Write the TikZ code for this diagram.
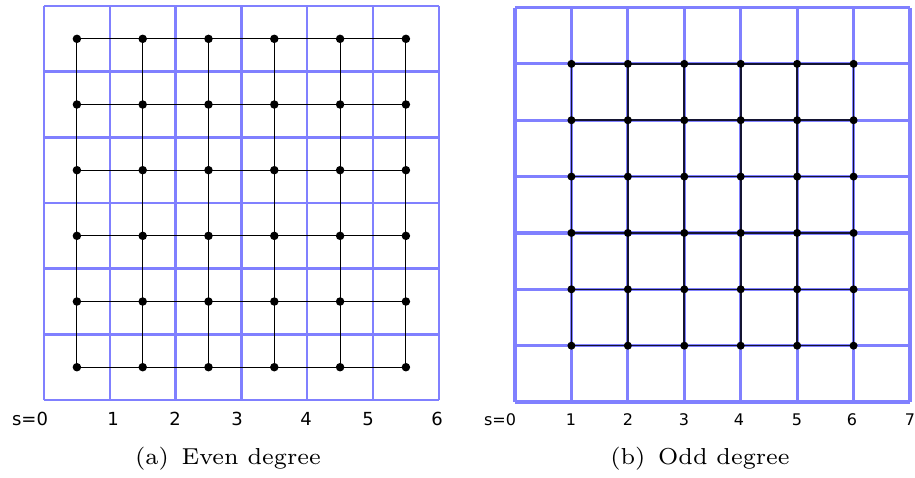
\documentclass[tikz,border=0pt]{standalone}
\usepackage{fontspec}
\usepackage{graphicx}
\newfontfamily\labfont{DejaVu Sans}
\definecolor{gridblue}{RGB}{128,128,255}
\definecolor{edgedark}{RGB}{20,20,50}
\newcommand{\captxt}[1]{\scalebox{3.3}{\fontsize{7}{8}\selectfont #1}}
\begin{document}
\begin{tikzpicture}[x=1pt,y=-1pt,
  gridline/.style={draw=gridblue,line width=2.5pt},
  gridlineb/.style={draw=gridblue,line width=3.2pt},
  edgeline/.style={draw=black,line width=0.9pt},
  edgelineb/.style={draw=edgedark,line width=1.6pt},
  dotnode/.style={circle,fill=black,inner sep=0pt,minimum size=8.5pt},
  dotnodeb/.style={circle,fill=black,inner sep=0pt,minimum size=8pt},
  lab/.style={font=\labfont\fontsize{18}{20}\selectfont,inner sep=0pt},
  labb/.style={font=\labfont\fontsize{16}{18}\selectfont,inner sep=0pt},
  captext/.style={inner sep=0pt,anchor=base}]
\useasboundingbox (0,0) rectangle (915,477);
% ---------- left panel (a) ----------
\foreach \i in {0,...,6} {
  \draw[gridline] ({44+\i*65.8},6) -- ({44+\i*65.8},400);
  \draw[gridline] (44,{6+\i*65.67}) -- (439,{6+\i*65.67});
}
\foreach \i in {1,...,6} \foreach \j in {1,...,6}
  \coordinate (a\i\j) at ({44+(\i-0.5)*65.8},{6+(\j-0.5)*65.67});
\foreach \j in {1,...,6} \draw[edgeline] (a1\j) -- (a6\j);
\foreach \i in {1,...,6} \draw[edgeline] (a\i1) -- (a\i6);
\foreach \i in {1,...,6} \foreach \j in {1,...,6}
  \node[dotnode] (da\i\j) at (a\i\j) {};
\node[lab] (sa0) at (30,419) {s=0};
\node[lab] (sa1) at (113,419) {1};
\node[lab] (sa2) at (175,419) {2};
\node[lab] (sa3) at (237,419) {3};
\node[lab] (sa4) at (306,419) {4};
\node[lab] (sa5) at (368,419) {5};
\node[lab] (sa6) at (437,419) {6};
\node[captext] (capa) at (228,464) {\captxt{(a)\hspace{0.55em}Even degree}};
% ---------- right panel (b) ----------
\foreach \i in {0,...,7} {
  \draw[gridlineb] ({515+\i*56.43},7.5) -- ({515+\i*56.43},402);
  \draw[gridlineb] (515,{7.5+\i*56.36}) -- (910,{7.5+\i*56.36});
}
\foreach \i in {1,...,6} \foreach \j in {1,...,6}
  \coordinate (b\i\j) at ({515+\i*56.43},{7.5+\j*56.36});
\foreach \j in {1,...,6} \draw[edgelineb] (b1\j) -- (b6\j);
\foreach \i in {1,...,6} \draw[edgelineb] (b\i1) -- (b\i6);
\foreach \i in {1,...,6} \foreach \j in {1,...,6}
  \node[dotnodeb] (db\i\j) at (b\i\j) {};
\node[labb] (sb0) at (500,420) {s=0};
\node[labb] (sb1) at (571,420) {1};
\node[labb] (sb2) at (628,420) {2};
\node[labb] (sb3) at (684,420) {3};
\node[labb] (sb4) at (739,420) {4};
\node[labb] (sb5) at (797,420) {5};
\node[labb] (sb6) at (852,420) {6};
\node[labb] (sb7) at (910,420) {7};
\node[captext] (capb) at (700,464) {\captxt{(b)\hspace{0.55em}Odd degree}};
\end{tikzpicture}
\end{document}
